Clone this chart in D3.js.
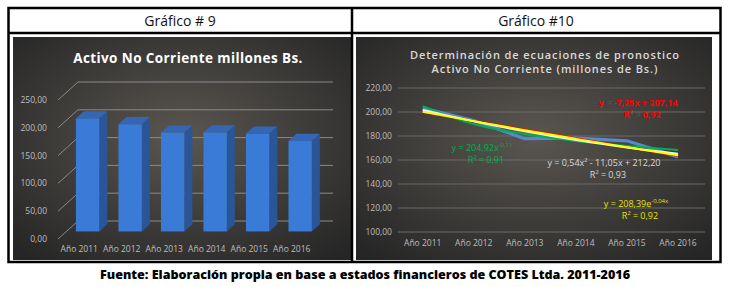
<html>
<head>
  <meta charset="utf-8">
  <title>Gráfico 9 y 10 - Activo No Corriente</title>
  <style>
    body { margin: 0; background: #fff; }
    text { font-family: "Open Sans", Roboto, sans-serif; }
  </style>
  <script src="https://d3js.org/d3.v7.min.js"></script>
</head>
<body>
  <div id="chart"></div>
  <script>
    // Data
    const years = ["Año 2011", "Año 2012", "Año 2013", "Año 2014", "Año 2015", "Año 2016"];
    const activo = [203.2, 192.8, 177.8, 178.2, 176.0, 162.6];
    const barTicks = [0, 50, 100, 150, 200, 250];
    const lineTicks = [100, 120, 140, 160, 180, 200, 220];
    // trend line values at each year, as shown in chart #10
    const trendLinear = [199.9, 192.6, 185.4, 178.1, 170.9, 163.6];
    const trendPower = [204.9, 189.9, 181.6, 175.9, 171.7, 168.3];
    const trendPoly = [201.7, 192.3, 183.9, 176.6, 170.5, 165.3];
    const trendExp = [200.2, 192.4, 184.8, 177.6, 170.6, 163.9];

    const W = 731, H = 287;
    const svg = d3.select("#chart").append("svg")
      .attr("width", W).attr("height", H);

    const defs = svg.append("defs");
    const grad = defs.append("radialGradient").attr("id", "bg")
      .attr("cx", "50%").attr("cy", "45%").attr("r", "70%");
    grad.append("stop").attr("offset", "0%").attr("stop-color", "#5a5650");
    grad.append("stop").attr("offset", "100%").attr("stop-color", "#262626");

    // ---------- table frame ----------
    svg.append("rect").attr("x", 13).attr("y", 37).attr("width", 338).attr("height", 223).attr("fill", "url(#bg)");
    svg.append("rect").attr("x", 356).attr("y", 37).attr("width", 356).attr("height", 223).attr("fill", "url(#bg)");

    const frame = svg.append("g").attr("stroke", "#000").attr("stroke-width", 2.5).attr("fill", "none");
    frame.append("rect").attr("x", 8.5).attr("y", 8).attr("width", 712).attr("height", 254);
    frame.append("line").attr("x1", 8.5).attr("x2", 720.5).attr("y1", 33).attr("y2", 33);
    frame.append("line").attr("x1", 352).attr("x2", 352).attr("y1", 8).attr("y2", 262);

    svg.append("text").attr("x", 180).attr("y", 26).attr("text-anchor", "middle")
      .attr("font-size", 14).attr("fill", "#111").text("Gráfico # 9");
    svg.append("text").attr("x", 536).attr("y", 26).attr("text-anchor", "middle")
      .attr("font-size", 14).attr("fill", "#111").text("Gráfico #10");

    svg.append("text").attr("x", 100).attr("y", 279)
      .attr("font-size", 11.5).attr("font-weight", 800).attr("fill", "#000")
      .attr("textLength", 530).attr("lengthAdjust", "spacingAndGlyphs")
      .text("Fuente: Elaboración propia en base a estados financieros de COTES Ltda. 2011-2016");

    // ---------- Gráfico 9: 3D columns ----------
    const g9 = svg.append("g");
    const xF = d3.scaleBand().domain(years).range([58, 313]).paddingInner(0.45).paddingOuter(0.225);
    const yF = d3.scaleLinear().domain([0, 250]).range([239, 100]);
    const DX = 20, DY = -18;
    const P = (x, v, z) => [x + z * DX, yF(v) + z * DY];

    g9.append("text").attr("x", 188).attr("y", 63).attr("text-anchor", "middle")
      .attr("font-size", 13.5).attr("font-weight", "bold").attr("fill", "#fff")
      .attr("letter-spacing", 0.4).text("Activo No Corriente millones Bs.");

    // grid: back wall + left wall diagonals
    barTicks.forEach(t => {
      const a = P(58, t, 0), b = P(58, t, 1), c = P(313, t, 1);
      g9.append("polyline").attr("points", [a, b, c].map(p => p.join(",")).join(" "))
        .attr("fill", "none").attr("stroke", "#8a8a8a").attr("stroke-width", 1);
    });
    g9.selectAll(".ytick").data(barTicks).join("text")
      .attr("x", 47).attr("y", d => yF(d) + 3).attr("text-anchor", "end")
      .attr("font-size", 8.5).attr("fill", "#bdbdbd").text(d => d.toFixed(2).replace(".", ","));

    const Z0 = 0.42, Z1 = 0.82;
    const pts = arr => arr.map(p => p.join(",")).join(" ");
    years.forEach((yr, i) => {
      const x0 = xF(yr), x1 = x0 + xF.bandwidth(), v = activo[i];
      // side face
      g9.append("polygon").attr("points", pts([P(x1, 0, Z0), P(x1, 0, Z1), P(x1, v, Z1), P(x1, v, Z0)]))
        .attr("fill", "#2a5597");
      // top face
      g9.append("polygon").attr("points", pts([P(x0, v, Z0), P(x1, v, Z0), P(x1, v, Z1), P(x0, v, Z1)]))
        .attr("fill", "#3466b4");
      // front face
      const f0 = P(x0, v, Z0), f1 = P(x1, 0, Z0);
      g9.append("rect").attr("x", f0[0]).attr("y", f0[1]).attr("width", f1[0] - f0[0]).attr("height", f1[1] - f0[1])
        .attr("fill", "#3a7bd8");
    });

    g9.selectAll(".xlab").data(years).join("text")
      .attr("x", d => xF(d) + xF.bandwidth() / 2).attr("y", 252).attr("text-anchor", "middle")
      .attr("font-size", 8.5).attr("fill", "#bdbdbd").text(d => d);

    // ---------- Gráfico 10: line + trend lines ----------
    const g10 = svg.append("g");
    const x = d3.scalePoint().domain(years).range([422.7, 678]);
    const y = d3.scaleLinear().domain([100, 220]).range([232, 88]);

    g10.append("text").attr("x", 545).attr("y", 59).attr("text-anchor", "middle")
      .attr("font-size", 11).attr("font-weight", 600).attr("fill", "#d9d9d9")
      .attr("letter-spacing", 0.9).text("Determinación de ecuaciones de pronostico");
    g10.append("text").attr("x", 545).attr("y", 73).attr("text-anchor", "middle")
      .attr("font-size", 11).attr("font-weight", 600).attr("fill", "#d9d9d9")
      .attr("letter-spacing", 0.9).text("Activo No Corriente (millones de Bs.)");

    g10.append("g").selectAll("line").data(lineTicks).join("line")
      .attr("x1", 398).attr("x2", 705).attr("y1", d => y(d)).attr("y2", d => y(d))
      .attr("stroke", "#6a6a6a").attr("stroke-width", 1);
    g10.selectAll(".ytick").data(lineTicks).join("text")
      .attr("x", 392).attr("y", d => y(d) + 3).attr("text-anchor", "end")
      .attr("font-size", 8.5).attr("fill", "#bdbdbd").text(d => d.toFixed(2).replace(".", ","));
    g10.selectAll(".xlab").data(years).join("text")
      .attr("x", d => x(d)).attr("y", 246).attr("text-anchor", "middle")
      .attr("font-size", 8.5).attr("fill", "#bdbdbd").text(d => d);

    const line = d3.line().x((d, i) => x(years[i])).y(d => y(d));
    const smooth = d3.line().x((d, i) => x(years[i])).y(d => y(d)).curve(d3.curveMonotoneX);
    g10.append("path").datum(activo).attr("d", line).attr("fill", "none")
      .attr("stroke", "#5588cc").attr("stroke-width", 3.2);
    g10.append("path").datum(trendLinear).attr("d", line).attr("fill", "none")
      .attr("stroke", "#ff0000").attr("stroke-width", 2);
    g10.append("path").datum(trendPower).attr("d", smooth).attr("fill", "none")
      .attr("stroke", "#00b050").attr("stroke-width", 2);
    g10.append("path").datum(trendPoly).attr("d", smooth).attr("fill", "none")
      .attr("stroke", "#f2f2f2").attr("stroke-width", 2);
    g10.append("path").datum(trendExp).attr("d", smooth).attr("fill", "none")
      .attr("stroke", "#ffff00").attr("stroke-width", 2);

    // equation labels
    function eq(cx, cy, color, bold, parts, r2) {
      const t = g10.append("text").attr("x", cx).attr("y", cy).attr("text-anchor", "middle")
        .attr("font-size", 9).attr("fill", color).attr("font-weight", bold ? "bold" : "normal");
      parts.forEach(p => {
        const s = t.append("tspan").text(p.t);
        if (p.sup) s.attr("font-size", 6).attr("baseline-shift", "super");
      });
      g10.append("text").attr("x", cx + 4).attr("y", cy + 12).attr("text-anchor", "middle")
        .attr("font-size", 9).attr("fill", color).attr("font-weight", bold ? "bold" : "normal").text(r2);
    }
    eq(638, 106, "#ff0000", true, [{ t: "y = -7,25x + 207,14" }], "R² = 0,92");
    eq(482, 151, "#00b050", false, [{ t: "y = 204,92x" }, { t: "-0,11", sup: true }], "R² = 0,91");
    eq(604, 166, "#d9d9d9", false, [{ t: "y = 0,54x² - 11,05x + 212,20" }], "R² = 0,93");
    eq(636, 207, "#e6e200", false, [{ t: "y = 208,39e" }, { t: "-0,04x", sup: true }], "R² = 0,92");
  </script>
</body>
</html>
